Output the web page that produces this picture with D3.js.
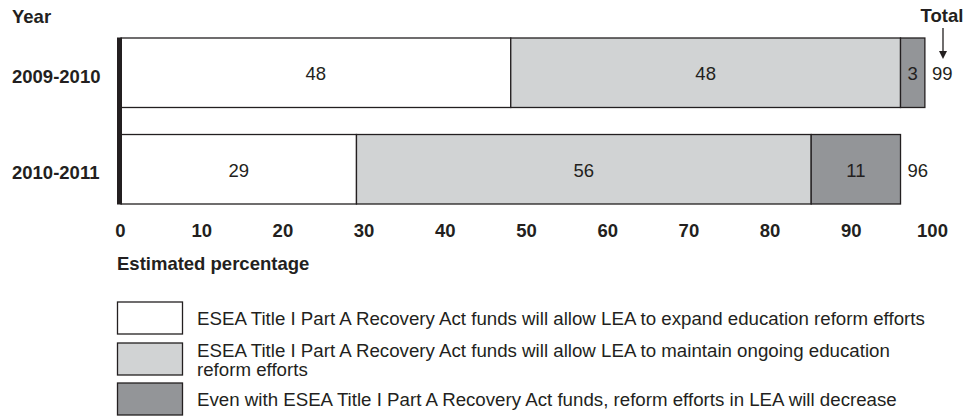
<!DOCTYPE html>
<html><head><meta charset="utf-8">
<script src="https://cdn.jsdelivr.net/npm/d3@7"></script>
<style>body{margin:0;background:#fff}svg{display:block;font-family:"Liberation Sans",Arial,sans-serif}</style>
</head><body><svg id="c" width="978" height="417"></svg>
<script>
const years = ["2009-2010", "2010-2011"];
const expand = [48, 29];
const maintain = [48, 56];
const decrease = [3, 11];
const totals = [99, 96];
const xTicks = [0, 10, 20, 30, 40, 50, 60, 70, 80, 90, 100];
const seriesNames = [
  "ESEA Title I Part A Recovery Act funds will allow LEA to expand education reform efforts",
  "ESEA Title I Part A Recovery Act funds will allow LEA to maintain ongoing education|reform efforts",
  "Even with ESEA Title I Part A Recovery Act funds, reform efforts in LEA will decrease"
];
const colors = ["#ffffff", "#d1d3d4", "#939598"];

const FS = 18.5;
const ink = "#231f20";
const svg = d3.select("#c");
const x = d3.scaleLinear().domain([0, 100]).range([121, 933]);
const y = d3.scaleBand().domain(years).range([38, 204]).paddingInner(0.28).paddingOuter(0);

const series = [expand, maintain, decrease];
const stack = years.map((yr, i) => {
  let acc = 0;
  return series.map((s, k) => { const d = {yr, k, x0: acc, x1: acc + s[i], v: s[i]}; acc += s[i]; return d; });
});

const g = svg.append("g");
stack.forEach(row => {
  row.forEach(d => {
    g.append("rect").attr("x", x(d.x0)).attr("y", y(d.yr))
      .attr("width", x(d.x1) - x(d.x0)).attr("height", y.bandwidth())
      .attr("fill", colors[d.k]).attr("stroke", ink).attr("stroke-width", 1.3);
    g.append("text").attr("x", (x(d.x0) + x(d.x1)) / 2).attr("y", y(d.yr) + y.bandwidth() / 2 + 7.5)
      .attr("text-anchor", "middle")
      .attr("font-size", FS).attr("fill", ink).text(d.v);
  });
});

// totals
years.forEach((yr, i) => {
  svg.append("text").attr("x", x(totals[i]) + 7).attr("y", y(yr) + y.bandwidth() / 2 + 7.5)
    .attr("font-size", FS).attr("fill", ink).text(totals[i]);
});

// vertical axis line
svg.append("line").attr("x1", x(0) - 1.5).attr("x2", x(0) - 1.5).attr("y1", 37.5).attr("y2", 204.5)
  .attr("stroke", ink).attr("stroke-width", 5);

// year labels
svg.append("text").attr("x", 12).attr("y", 23).attr("font-size", FS).attr("font-weight", "bold").attr("fill", ink).text("Year");
years.forEach(yr => {
  svg.append("text").attr("x", 12).attr("y", y(yr) + y.bandwidth() / 2 + 10)
    .attr("font-size", FS).attr("font-weight", "bold").attr("fill", ink).text(yr);
});

// x axis tick labels
const xAxis = d3.axisBottom(x).tickValues(xTicks).tickSize(0).tickPadding(0);
const ax = svg.append("g").attr("transform", "translate(-1,224)").call(xAxis);
ax.select(".domain").remove();
ax.selectAll("text").attr("font-size", FS).attr("font-weight", "bold").attr("fill", ink)
  .attr("font-family", "Liberation Sans, Arial, sans-serif");

svg.append("text").attr("x", 117).attr("y", 270).attr("font-size", FS).attr("font-weight", "bold")
  .attr("fill", ink).text("Estimated percentage");

// Total label and arrow
svg.append("text").attr("x", 942).attr("y", 22).attr("text-anchor", "middle").attr("font-size", FS)
  .attr("font-weight", "bold").attr("fill", ink).text("Total");
svg.append("line").attr("x1", 943).attr("x2", 943).attr("y1", 28).attr("y2", 52)
  .attr("stroke", ink).attr("stroke-width", 1.3);
svg.append("path").attr("d", "M939,51 L947,51 L943,59 Z").attr("fill", ink);

// legend
const legY = [302, 343, 383];
const legBase = [[325], [357, 376], [406]];
seriesNames.forEach((name, k) => {
  svg.append("rect").attr("x", 117.5).attr("y", legY[k]).attr("width", 65).attr("height", 32)
    .attr("fill", colors[k]).attr("stroke", ink).attr("stroke-width", 1.3);
  name.split("|").forEach((ln, j) => {
    svg.append("text").attr("x", 197).attr("y", legBase[k][j]).attr("font-size", 18.7)
      .attr("fill", ink).text(ln);
  });
});
</script></body></html>
